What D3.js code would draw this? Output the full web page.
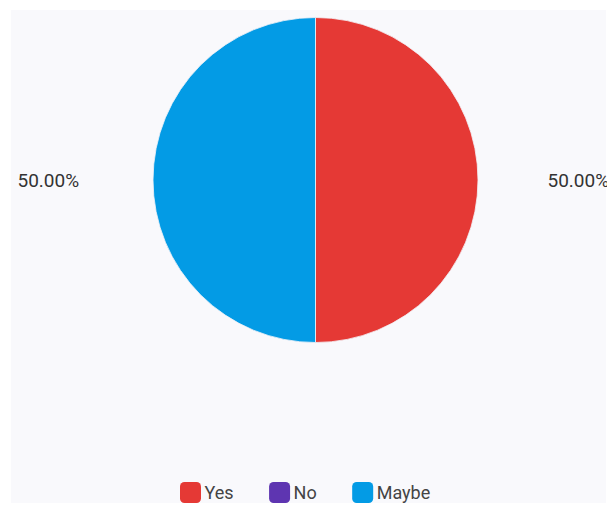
<!DOCTYPE html>
<html>
<head>
<meta charset="utf-8">
<script src="https://cdn.jsdelivr.net/npm/d3@7"></script>
<style>
  html, body { margin: 0; padding: 0; background: #ffffff; }
  svg { display: block; }
</style>
</head>
<body>
<svg id="chart" width="607" height="505"></svg>
<script>
// Survey answers and their share of responses
const categories = ["Yes", "No", "Maybe"];
const values = [50, 0, 50];
const colors = ["#e53935", "#5e35b1", "#039be5"];

const svg = d3.select("#chart");
const W = 607, H = 505;

// panel background
svg.append("rect")
  .attr("x", 11).attr("y", 10)
  .attr("width", W - 12).attr("height", H - 12)
  .attr("fill", "#f9f9fc");

const cx = 315.5, cy = 180, r = 162.5;
const data = categories.map((c, i) => ({ name: c, value: values[i], color: colors[i] }));
const total = d3.sum(values);

const pie = d3.pie().value(d => d.value).sort(null);
const arc = d3.arc().innerRadius(0).outerRadius(r);
const arcs = pie(data);

const g = svg.append("g").attr("transform", `translate(${cx},${cy})`);
g.selectAll("path")
  .data(arcs.filter(a => a.data.value > 0))
  .join("path")
  .attr("d", arc)
  .attr("fill", d => d.data.color)
  .attr("stroke", "#f3f3f8")
  .attr("stroke-width", 0.8);

// percentage labels placed beside the pie, on the side of each slice's mid-angle
const labelX = d3.scaleOrdinal().domain(["right", "left"]).range([cx + 232, cx - 298]);
g.selectAll("text.pct")
  .data(arcs.filter(a => a.data.value > 0))
  .join("text")
  .attr("class", "pct")
  .attr("x", d => {
    const mid = (d.startAngle + d.endAngle) / 2;
    return (Math.sin(mid) >= 0 ? labelX("right") : labelX("left")) - cx;
  })
  .attr("y", 0)
  .attr("dy", "0.35em")
  .attr("font-family", "Roboto, sans-serif")
  .attr("font-size", 19)
  .attr("fill", "#333333")
  .text(d => (d.data.value / total * 100).toFixed(2) + "%");

// legend along the bottom, items flowed left to right by their text width
const lg = svg.append("g");
const item = lg.selectAll("g").data(data).join("g");
item.append("rect")
  .attr("width", 21).attr("height", 21)
  .attr("rx", 4.5).attr("ry", 4.5)
  .attr("fill", d => d.color);
item.append("text")
  .attr("x", 24.5).attr("y", 16.8)
  .attr("font-family", "Roboto, sans-serif")
  .attr("font-size", 18)
  .attr("fill", "#444444")
  .text(d => d.name);

let x = 180;
item.each(function () {
  const node = d3.select(this);
  node.attr("transform", `translate(${x},482)`);
  x += 24.5 + node.select("text").node().getComputedTextLength() + 35.5;
});
</script>
</body>
</html>
